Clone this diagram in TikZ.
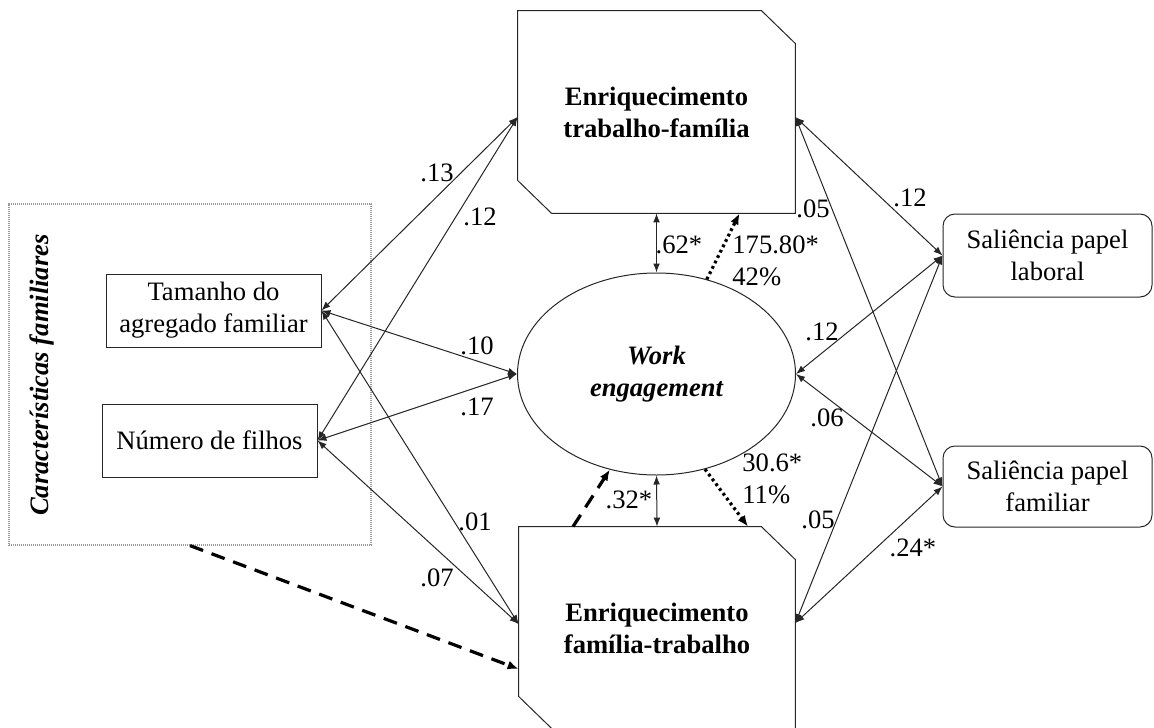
\documentclass[tikz,border=0pt]{standalone}
\usepackage{fontspec}
\setmainfont{Liberation Serif}
\usetikzlibrary{arrows.meta,calc,shapes.geometric}
\newcommand\fsz{\fontsize{13.3}{16}\selectfont}
\begin{document}
\begin{tikzpicture}[x=0.5pt,y=-0.5pt,
  box/.style={draw=black!85, line width=0.5pt, inner sep=0pt, align=center, font=\fsz},
  rbox/.style={box, rounded corners=6pt},
  big/.style={draw=none, inner sep=0pt, align=center, font=\fsz\bfseries},
  lbl/.style={inner sep=0pt, font=\fsz},
  conn/.style={line width=0.5pt, draw=black!85, {Latex[length=4.5pt,width=3.4pt]}-{Latex[length=4.5pt,width=3.4pt]}},
  dashedarrow/.style={line width=1.6pt, dash pattern=on 7pt off 4.5pt, -{Latex[length=5.5pt,width=4.5pt]}},
  dottedarrow/.style={line width=1.6pt, dash pattern=on 1.4pt off 1.6pt, -{Latex[length=5.5pt,width=4.5pt]}}
]
\useasboundingbox (0,0) rectangle (1154,727);

% left group
\node[draw=gray!80, line width=0.6pt, dash pattern=on 0.6pt off 0.4pt, minimum width=181pt, minimum height=170.5pt, inner sep=0pt] (car) at (190,374.5) {};
\node[rotate=90, inner sep=0pt, font=\fsz\bfseries\itshape] (cart) at (42,375) {Características familiares};
\node[box, minimum width=107.5pt, minimum height=36.5pt] (tam) at (213.5,310.5) {Tamanho do\\agregado familiar};
\node[box, minimum width=107.5pt, minimum height=36.5pt] (num) at (209.5,440.5) {Número de filhos};

% central boxes
\node[big, minimum width=138.5pt, minimum height=101pt] (T) at (656.5,112) {Enriquecimento\\trabalho-família};
\node[big, minimum width=138pt, minimum height=101pt] (B) at (657,628) {Enriquecimento\\família-trabalho};
\draw[draw=black!85, line width=0.5pt] (T.north west) -- ($(T.north east)+(-34,0)$) -- ($(T.north east)+(0,33)$) -- (T.south east) -- ($(T.south west)+(34,0)$) -- ($(T.south west)+(0,-33)$) -- cycle;
\draw[draw=black!85, line width=0.5pt] (B.north west) -- ($(B.north east)+(-34,0)$) -- ($(B.north east)+(0,33)$) -- (B.south east) -- ($(B.south west)+(34,0)$) -- ($(B.south west)+(0,-33)$) -- cycle;

\node[ellipse, draw=black!85, line width=0.5pt, minimum width=139pt, minimum height=101pt, inner sep=0pt, align=center, font=\fsz\bfseries\itshape] (E) at (656.5,374) {Work\\engagement};

% right boxes
\node[rbox, minimum width=104.5pt, minimum height=41.5pt] (lab) at (1047.5,255.5) {Saliência papel\\laboral};
\node[rbox, minimum width=104.5pt, minimum height=40.5pt] (fam) at (1047.5,486.5) {Saliência papel\\familiar};

% anchor points
\coordinate (Tw) at ($(T.west)+(0,5)$);
\coordinate (Te) at ($(T.east)+(0,5)$);
\coordinate (Bw1) at ($(B.west)+(0,-4)$);
\coordinate (Bw2) at ($(B.west)+(0,41)$);
\coordinate (Be) at ($(B.east)+(0,-5)$);
\coordinate (Ts) at ($(T.south)+(83,0)$);
\coordinate (Bn1) at ($(B.north)+(91,0)$);
\coordinate (Bn2) at ($(B.north)+(-84,0)$);

% left connectors
\draw[conn] (Tw) -- (tam.east);
\draw[conn] (Tw) -- (num.east);
\draw[conn] (tam.east) -- (E.west);
\draw[conn] (num.east) -- (E.west);
\draw[conn] (tam.east) -- (Bw1);
\draw[conn] (num.east) -- (Bw1);
\draw[dashedarrow] (car.south) -- (Bw2);

% right connectors
\draw[conn] (Te) -- (lab.west);
\draw[conn] (Te) -- (fam.west);
\draw[conn] (E.east) -- (lab.west);
\draw[conn] (E.east) -- (fam.west);
\draw[conn] (Be) -- (lab.west);
\draw[conn] (Be) -- (fam.west);

% middle connectors
\draw[conn] (T.south) -- (E.north);
\draw[conn] (E.south) -- (B.north);
\draw[dottedarrow] (E.62) -- (Ts);
\draw[dottedarrow] (E.-63) -- (Bn1);
\draw[dashedarrow] (Bn2) -- (E.-116);

% labels
\node[lbl] (l13) at (437,173) {.13};
\node[lbl] (l12a) at (480,217) {.12};
\node[lbl] (l10) at (477,346) {.10};
\node[lbl] (l17) at (477,407) {.17};
\node[lbl] (l01) at (475,522) {.01};
\node[lbl] (l07) at (437,578) {.07};
\node[lbl] (l12b) at (910,198) {.12};
\node[lbl] (l05a) at (813,209) {.05};
\node[lbl] (l12c) at (822,332) {.12};
\node[lbl] (l06) at (827,418) {.06};
\node[lbl] (l05b) at (818,520) {.05};
\node[lbl] (l24) at (913,548) {.24*};
\node[lbl] (l62) at (679,245) {.62*};
\node[lbl] (l32) at (629,500) {.32*};
\node[lbl, anchor=west, align=left] (l175) at (732,261) {175.80*\\42\%};
\node[lbl, anchor=west, align=left] (l306) at (742,479) {30.6*\\11\%};
\end{tikzpicture}
\end{document}
